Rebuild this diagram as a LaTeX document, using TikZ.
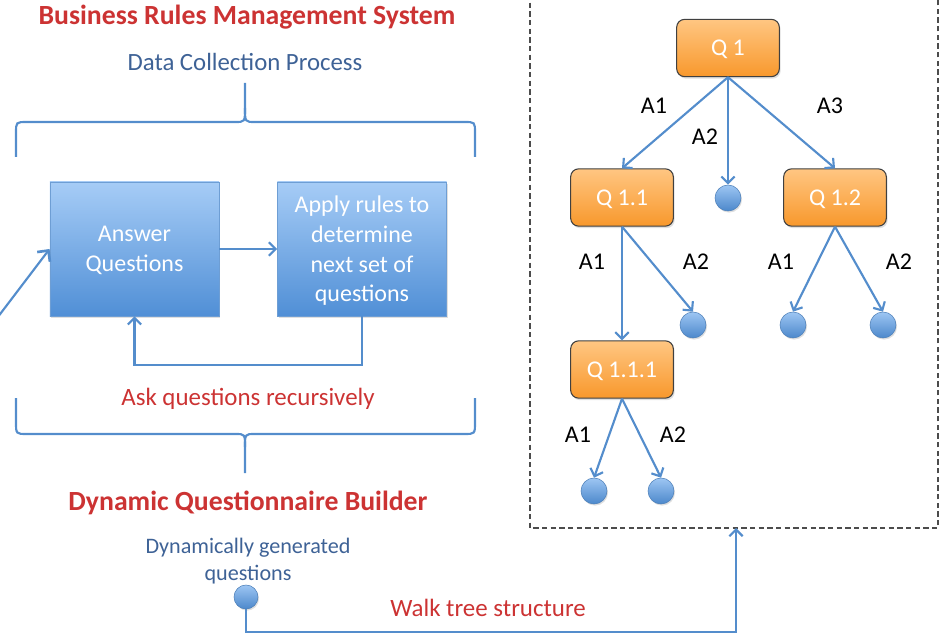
\documentclass[tikz,border=0pt]{standalone}
\usepackage{fontspec}
\setmainfont{Carlito}
\usetikzlibrary{arrows.meta,shadows}

\definecolor{rulered}{RGB}{204,51,51}
\definecolor{flowblue}{RGB}{84,141,204}
\definecolor{capblue}{RGB}{62,98,150}
\definecolor{boxtop}{RGB}{166,204,246}
\definecolor{boxbot}{RGB}{80,143,214}
\definecolor{qtop}{RGB}{255,198,130}
\definecolor{qbot}{RGB}{248,152,44}

\begin{document}
\begin{tikzpicture}[x=0.75pt,y=-0.75pt,
    flow/.style={draw=flowblue,line width=1.6pt},
    arr/.style={flow,-{Straight Barb[length=5pt,width=10pt]}},
    stepbox/.style={draw=flowblue!85,line width=0.6pt,top color=boxtop,bottom color=boxbot,
      text=white,align=center,inner sep=2pt,minimum width=126.8pt,minimum height=100.5pt,
      text depth=-8pt,font=\fontsize{18}{22.3}\selectfont,
      drop shadow={opacity=0.25,shadow xshift=1pt,shadow yshift=-1.5pt}},
    qbox/.style={draw=black!75,line width=0.8pt,rounded corners=6pt,top color=qtop,bottom color=qbot,
      text=white,minimum width=77pt,minimum height=43pt,inner sep=0pt,
      text depth=-2pt,font=\fontsize{18}{22}\selectfont,
      drop shadow={opacity=0.25,shadow xshift=1pt,shadow yshift=-1.5pt}},
    leaf/.style={circle,draw=flowblue!90!black,line width=0.4pt,top color=boxtop!90!boxbot,bottom color=boxbot!95!black,
      minimum size=19.5pt,inner sep=0pt,
      drop shadow={opacity=0.25,shadow xshift=0.8pt,shadow yshift=-1.2pt}},
    ans/.style={text=black,font=\fontsize{18}{22}\selectfont},
    redtxt/.style={text=rulered,font=\fontsize{18.7}{22}\selectfont},
    bluetxt/.style={text=capblue,font=\fontsize{18.6}{22}\selectfont}]
  \useasboundingbox (0,0) rectangle (942,638);

  % left part
  \node[text=rulered,font=\fontsize{20.8}{25}\selectfont\bfseries] (brms) at (247,17) {Business Rules Management System};
  \node[bluetxt] (dcp) at (245,62) {Data Collection Process};

  \draw[flow] (16,157) -- (16,133) .. controls (16,122) .. (27,122) -- (235,122)
    .. controls (245,122) .. (245,108) -- (245,83);
  \draw[flow] (245,108) .. controls (245,122) .. (255,122) -- (464,122)
    .. controls (475,122) .. (475,133) -- (475,157);

  \node[stepbox] (answer) at (134.5,249) {Answer\\Questions};
  \node[stepbox] (apply) at (362,249) {Apply rules to\\determine\\next set of\\questions};
  \draw[arr] (answer) -- (apply);
  \draw[arr] (apply.south) -- ++(0,49) -| (answer.south);
  \coordinate (feed) at (-12,330);
  \draw[flow,-{Straight Barb[length=6pt,width=12pt,line width=2pt]}] (feed) -- (answer.west);

  \node[redtxt] (askrec) at (248,399) {Ask questions recursively};

  \draw[flow] (16,398) -- (16,422) .. controls (16,434) .. (27,434) -- (235,434)
    .. controls (245,434) .. (245,447) -- (245,473);
  \draw[flow] (245,447) .. controls (245,434) .. (255,434) -- (464,434)
    .. controls (475,434) .. (475,422) -- (475,398);

  \node[text=rulered,font=\fontsize{20.8}{25}\selectfont\bfseries] (dqb) at (248,503) {Dynamic Questionnaire Builder};
  \node[bluetxt,align=center,font=\fontsize{16.6}{20}\selectfont] (dyn) at (248,561) {Dynamically generated\\questions};
  \node[leaf,minimum size=18pt] (dot) at (246,597) {};

  % question tree
  \draw[black!70,line width=0.9pt,dash pattern=on 4pt off 2.5pt] (530,-6) rectangle (938,528);
  \coordinate (walk) at (736,528);
  \coordinate (bend) at (246,632);
  \draw[arr] (dot.south) -- (bend) -| (walk);
  \node[redtxt] (walklbl) at (488,608) {Walk tree structure};

  \node[qbox] (q1) at (728,48) {Q 1};
  \node[qbox] (q11) at (622,197.5) {Q 1.1};
  \node[qbox] (q12) at (835,197.5) {Q 1.2};
  \node[qbox] (q111) at (622,369.5) {Q 1.1.1};

  \node[leaf] (l1) at (728,198) {};
  \node[leaf] (l2) at (693,325) {};
  \node[leaf] (l3) at (793,325) {};
  \node[leaf] (l4) at (883,325) {};
  \node[leaf] (l5) at (594,491) {};
  \node[leaf] (l6) at (661,491) {};

  \draw[arr] (q1.south) -- (q11.north);
  \draw[arr] (q1.south) -- (l1.north);
  \draw[arr] (q1.south) -- (q12.north);
  \draw[arr] (q11.south) -- (q111.north);
  \draw[arr] (q11.south) -- (l2.north);
  \draw[arr] (q12.south) -- (l3.north);
  \draw[arr] (q12.south) -- (l4.north);
  \draw[arr] (q111.south) -- (l5.north);
  \draw[arr] (q111.south) -- (l6.north);

  \node[ans] (a11) at (654,106) {A1};
  \node[ans] (a12) at (705,137) {A2};
  \node[ans] (a13) at (830,106) {A3};
  \node[ans] (a21) at (592,262) {A1};
  \node[ans] (a22) at (696,262) {A2};
  \node[ans] (a31) at (781,262) {A1};
  \node[ans] (a32) at (899,262) {A2};
  \node[ans] (a41) at (578,435) {A1};
  \node[ans] (a42) at (673,435) {A2};
\end{tikzpicture}
\end{document}
